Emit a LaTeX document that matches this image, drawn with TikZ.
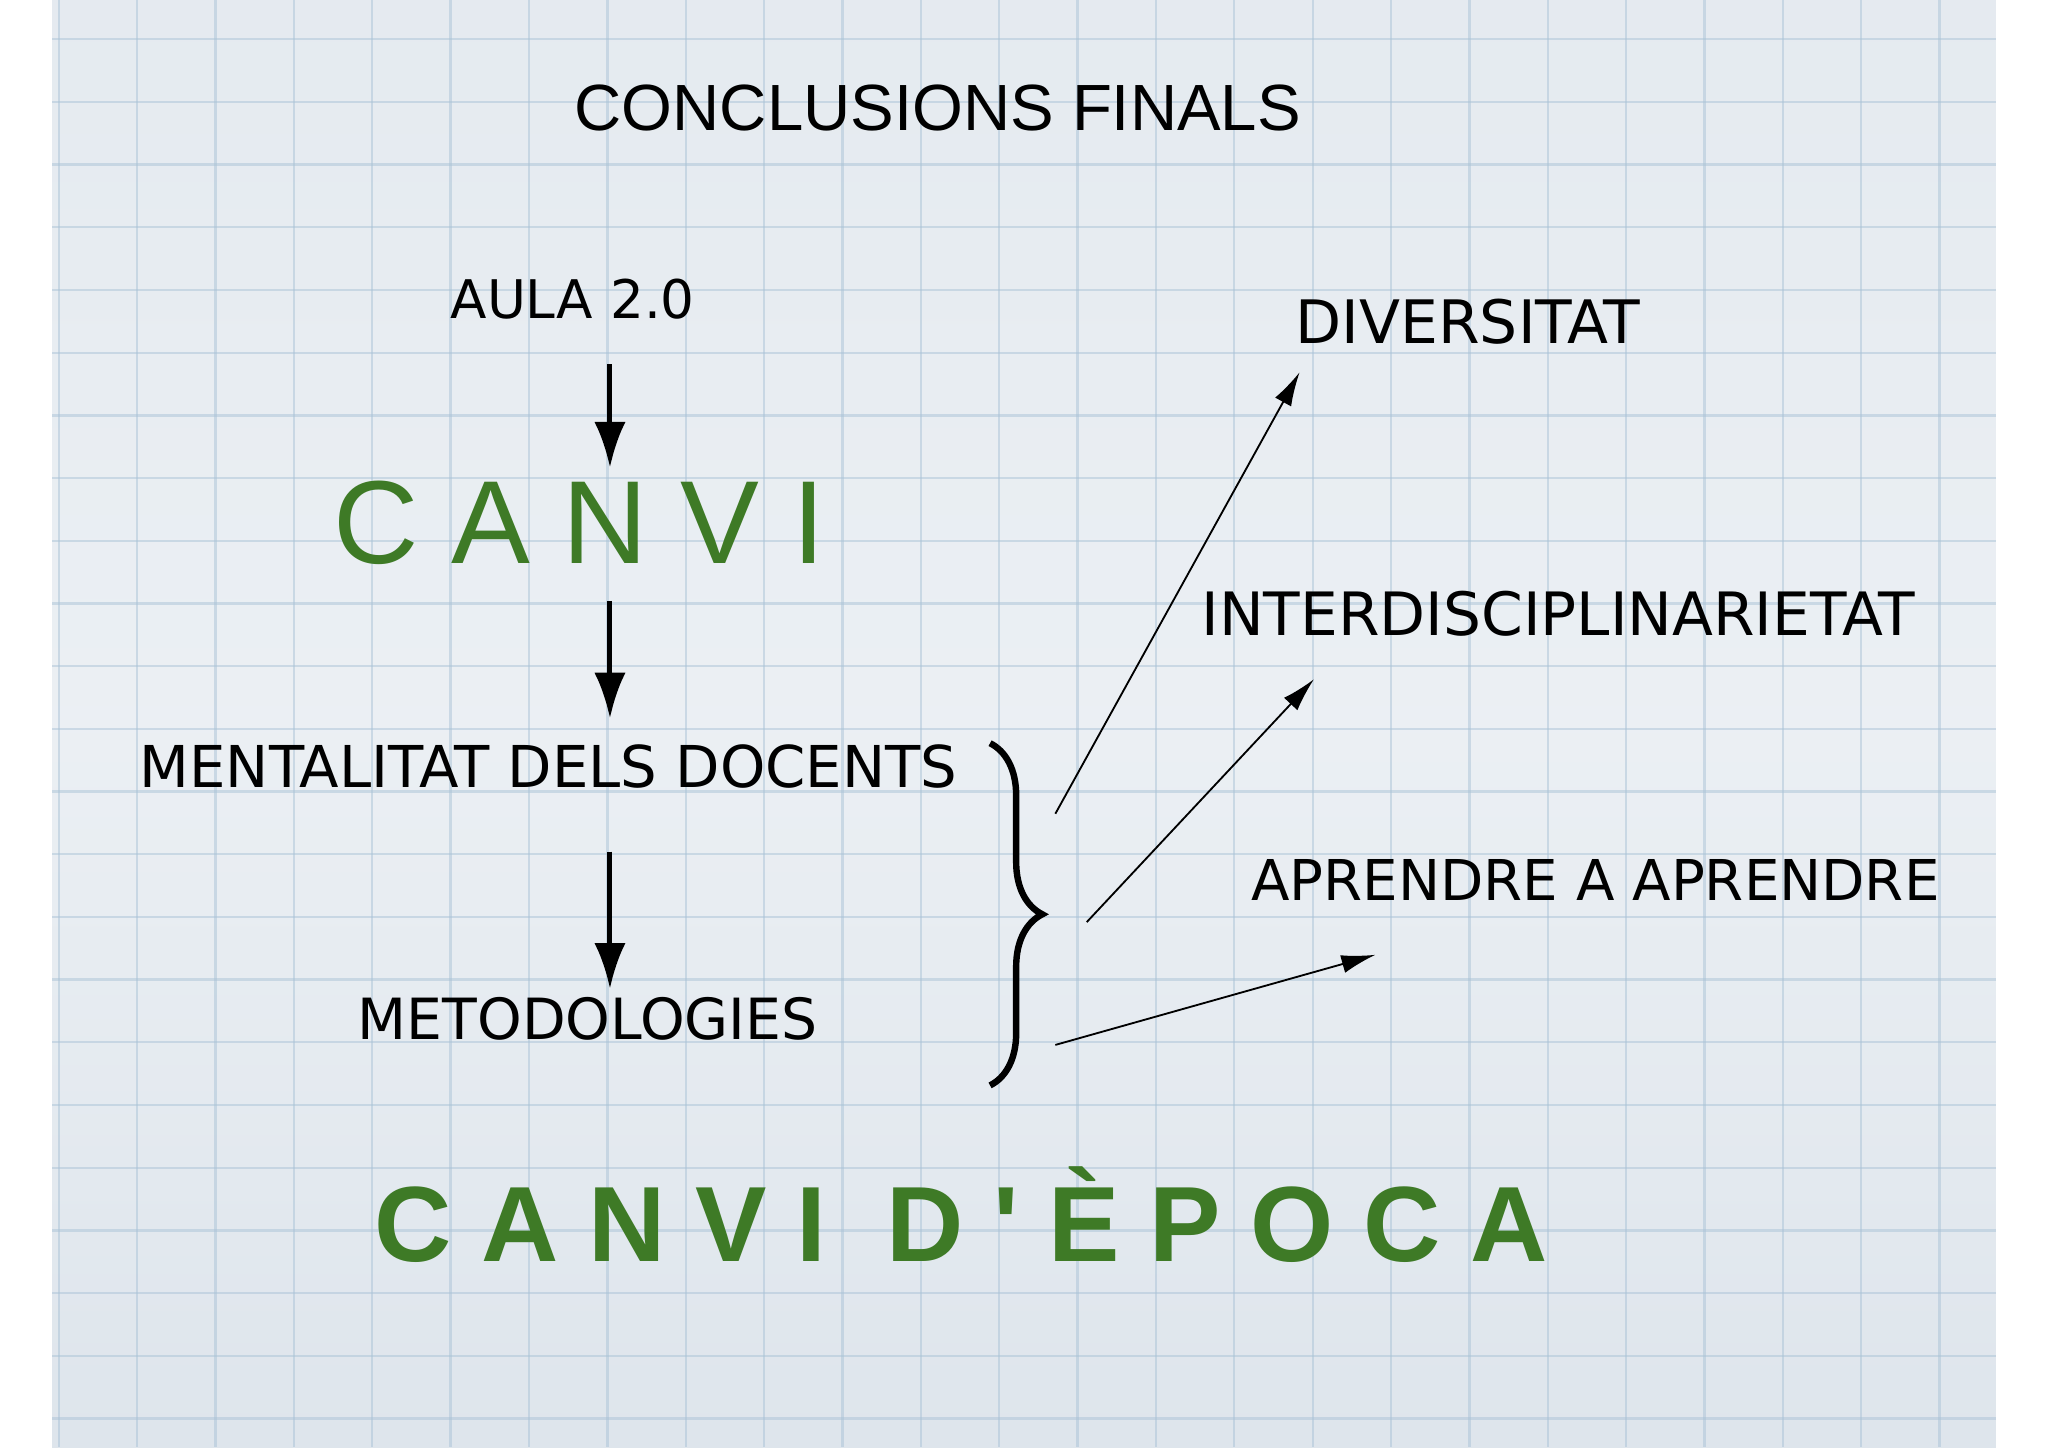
\documentclass[tikz,border=0pt]{standalone}
\usepackage{fontspec}
\setmainfont{DejaVu Sans}
\newfontfamily\lib{Liberation Sans}
\usepackage{graphicx}
\definecolor{bgc}{RGB}{222,229,236}
\definecolor{gridc}{RGB}{170,195,215}
\definecolor{grn}{RGB}{62,122,38}
\tikzset{lbl/.style={inner sep=0pt,text=black},
  darr/.style={-{Latex[length=3.5mm,width=2.4mm]},line width=1.1pt},
  tarr/.style={-{Latex[length=2.6mm,width=1.4mm]},line width=0.4pt}}
\usetikzlibrary{arrows.meta,decorations.pathreplacing}
\newcommand{\fw}[2]{\resizebox{#1cm}{!}{#2}}
\begin{document}
\begin{tikzpicture}[y=-1cm]
\useasboundingbox (0,0) rectangle (15.68,11.08);
\fill[white] (0,0) rectangle (15.68,11.08);
\shade[top color=bgc!80!white,bottom color=bgc,middle color=bgc!60!white] (0.4,0) rectangle (15.28,11.08);
\begin{scope}
\clip (0.4,0) rectangle (15.28,11.08);
\foreach \x in {0.45,1.05,...,15.3} \draw[gridc,line width=0.5pt,opacity=0.5] (\x,0) -- (\x,11.08);
\foreach \y in {0.3,0.78,...,11.1} \draw[gridc,line width=0.5pt,opacity=0.5] (0.4,\y) -- (15.28,\y);
\end{scope}
\node[lbl] (title) at (7.18,0.83) {\lib\fw{5.56}{CONCLUSIONS FINALS}};
\node[lbl] (aula) at (4.385,2.29) {\fw{1.87}{AULA 2.0}};
\node[lbl,text=grn] (canvi) at (4.435,4.0) {\lib\fw{3.77}{C A N V I}};
\node[lbl] (ment) at (4.2,5.87) {\fw{6.26}{MENTALITAT DELS DOCENTS}};
\node[lbl] (meto) at (4.5,7.8) {\fw{3.52}{METODOLOGIES}};
\node[lbl] (div) at (11.24,2.46) {\fw{2.64}{DIVERSITAT}};
\node[lbl] (inter) at (11.93,4.7) {\fw{5.46}{INTERDISCIPLINARIETAT}};
\node[lbl] (apr) at (12.215,6.74) {\fw{5.27}{APRENDRE A APRENDRE}};
\node[lbl,text=grn] (epoca) at (7.36,9.3) {\lib\bfseries\fw{8.98}{C A N V I\ \ D ' È P O C A}};
\coordinate (a1) at (4.67,2.79); \coordinate (a2) at (4.67,3.58);
\coordinate (b1) at (4.67,4.6); \coordinate (b2) at (4.67,5.5);
\coordinate (c1) at (4.67,6.52); \coordinate (c2) at (4.67,7.57);
\draw[darr] (a1) -- (a2);
\draw[darr] (b1) -- (b2);
\draw[darr] (c1) -- (c2);
\draw[line width=1.4pt,decorate,decoration={brace,amplitude=0.4cm,aspect=0.5}] (7.58,5.69) -- (7.58,8.31);
\coordinate (s1) at (8.08,6.23); \coordinate (t1) at (9.95,2.85);
\coordinate (s2) at (8.32,7.06); \coordinate (t2) at (10.06,5.2);
\coordinate (s3) at (8.08,8.0); \coordinate (t3) at (10.53,7.31);
\draw[tarr] (s1) -- (t1);
\draw[tarr] (s2) -- (t2);
\draw[tarr] (s3) -- (t3);
\end{tikzpicture}
\end{document}
